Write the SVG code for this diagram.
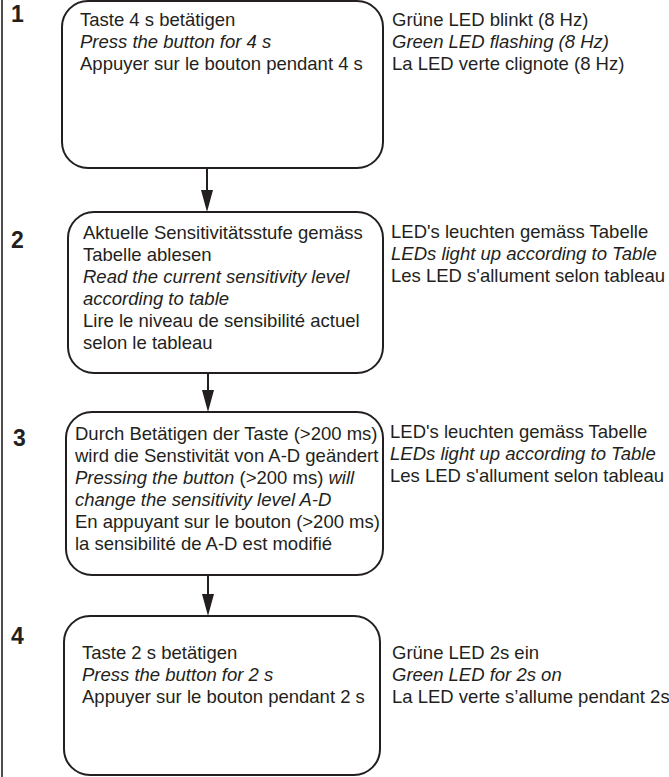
<svg xmlns="http://www.w3.org/2000/svg" width="669" height="777" viewBox="0 0 669 777">
<style>
text{font-family:"Liberation Sans",Arial,sans-serif;font-size:18.5px;fill:#231f20}
.it{font-style:italic}
.num{font-weight:bold;font-size:23px}
.box{fill:#fff;stroke:#231f20;stroke-width:2}
.conn{stroke:#231f20;stroke-width:2;fill:none}
.head{fill:#231f20}
</style>
<rect width="669" height="777" fill="#fff"/>
<line x1="2" y1="0" x2="2" y2="777" stroke="#231f20" stroke-width="1.6"/>
<g id="connectors">
<line class="conn" x1="207" y1="168" x2="207" y2="200"/>
<path class="head" d="M201,190 L213,190 L207,212 Z"/>
<line class="conn" x1="208" y1="373" x2="208" y2="400"/>
<path class="head" d="M202,390 L214,390 L208,412 Z"/>
<line class="conn" x1="208" y1="575" x2="208" y2="604"/>
<path class="head" d="M202,594 L214,594 L208,616 Z"/>
</g>
<g id="step1">
<text class="num" x="11" y="22">1</text>
<rect class="box" x="62" y="1" width="321" height="167" rx="26"/>
<text x="80" y="26">Taste 4 s betätigen</text>
<text class="it" x="80" y="48">Press the button for 4 s</text>
<text x="80" y="70">Appuyer sur le bouton pendant 4 s</text>
</g>
<g id="led1">
<text x="392" y="26">Grüne LED blinkt (8 Hz)</text>
<text class="it" x="392" y="48">Green LED flashing (8 Hz)</text>
<text x="392" y="70">La LED verte clignote (8 Hz)</text>
</g>
<g id="step2">
<text class="num" x="11" y="248">2</text>
<rect class="box" x="68" y="212" width="315" height="161" rx="26"/>
<text x="83" y="239">Aktuelle Sensitivitätsstufe gemäss</text>
<text x="83" y="261">Tabelle ablesen</text>
<text class="it" x="83" y="283">Read the current sensitivity level</text>
<text class="it" x="83" y="305">according to table</text>
<text x="83" y="327">Lire le niveau de sensibilité actuel</text>
<text x="83" y="349">selon le tableau</text>
</g>
<g id="led2">
<text x="391" y="238">LED's leuchten gemäss Tabelle</text>
<text class="it" x="391" y="260">LEDs light up according to Table</text>
<text x="391" y="282">Les LED s'allument selon tableau</text>
</g>
<g id="step3">
<text class="num" x="13" y="446">3</text>
<rect class="box" x="66" y="412" width="317" height="163" rx="26"/>
<text x="75" y="440">Durch Betätigen der Taste (&gt;200 ms)</text>
<text x="75" y="462">wird die Senstivität von A-D geändert</text>
<text x="75" y="484"><tspan class="it">Pressing the button</tspan> (&gt;200 ms) <tspan class="it">will</tspan></text>
<text class="it" x="75" y="506">change the sensitivity level A-D</text>
<text x="75" y="528">En appuyant sur le bouton (&gt;200 ms)</text>
<text x="75" y="550">la sensibilité de A-D est modifié</text>
</g>
<g id="led3">
<text x="390" y="438">LED's leuchten gemäss Tabelle</text>
<text class="it" x="390" y="460">LEDs light up according to Table</text>
<text x="390" y="482">Les LED s'allument selon tableau</text>
</g>
<g id="step4">
<text class="num" x="11" y="644">4</text>
<rect class="box" x="64" y="616" width="316" height="159" rx="26"/>
<text x="82" y="659">Taste 2 s betätigen</text>
<text class="it" x="82" y="681">Press the button for 2 s</text>
<text x="82" y="703">Appuyer sur le bouton pendant 2 s</text>
</g>
<g id="led4">
<text x="392" y="659">Grüne LED 2s ein</text>
<text class="it" x="392" y="681">Green LED for 2s on</text>
<text x="392" y="703">La LED verte s’allume pendant 2s</text>
</g>
</svg>
